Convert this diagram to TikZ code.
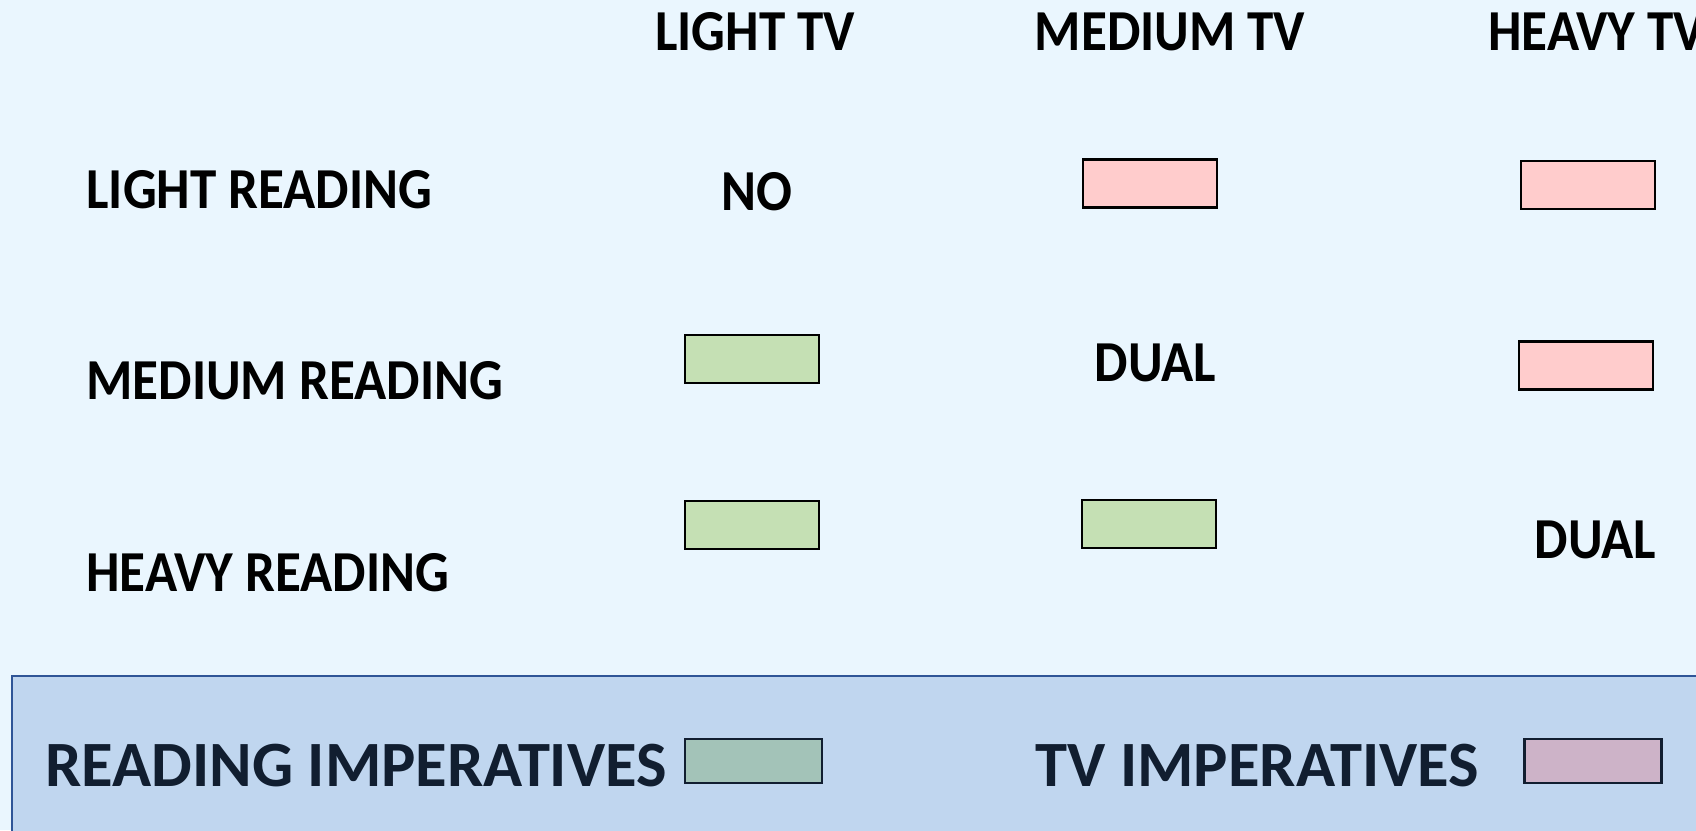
\documentclass[tikz,border=0pt]{standalone}
\usepackage{fontspec}
\setmainfont{Carlito}
\newfontfamily\gridfont{Carlito}[FakeStretch=0.915]
\definecolor{pagebg}{HTML}{EAF6FE}
\definecolor{bandfill}{HTML}{C0D6EF}
\definecolor{banddraw}{HTML}{2F5597}
\definecolor{navytext}{HTML}{111E30}
\definecolor{pinkfill}{HTML}{FFCCCC}
\definecolor{greenfill}{HTML}{C5E0B4}
\definecolor{tealfill}{HTML}{A3C3B8}
\definecolor{mauvefill}{HTML}{CDB3C8}
\tikzset{
  gridtext/.style={font=\gridfont\bfseries\fontsize{29}{32}\selectfont, inner sep=0},
  heading/.style={gridtext, anchor=base},
  rowlabel/.style={gridtext, anchor=base west},
  celltext/.style={gridtext, anchor=base},
  keytext/.style={font=\bfseries\fontsize{32.3}{36}\selectfont, text=navytext, anchor=base west, inner sep=0},
  swatch/.style={draw=black, line width=1.2pt, minimum width=67pt, minimum height=24pt, inner sep=0},
  pinkbox/.style={swatch, fill=pinkfill},
  greenbox/.style={swatch, fill=greenfill},
  keybox/.style={draw=navytext, line width=1.2pt, minimum width=68.5pt, minimum height=22pt, inner sep=0},
}
\begin{document}
\begin{tikzpicture}[x=0.5pt,y=-0.5pt]
  \useasboundingbox (0,0) rectangle (1696,830);
  \clip (0,0) rectangle (1696,830);
  \fill[pagebg] (0,0) rectangle (1696,830);

  % column headings
  \node[heading] (hlight) at (755,50) {LIGHT TV};
  \node[heading] (hmed) at (1170,50) {MEDIUM TV};
  \node[heading, anchor=base west] (hheavy) at (1488,50) {HEAVY TV};

  % row labels
  \node[rowlabel] (rlight) at (86,208) {LIGHT READING};
  \node[rowlabel] (rmed) at (86,399) {MEDIUM READING};
  \node[rowlabel] (rheavy) at (86,591) {HEAVY READING};

  % grid cells
  \node[celltext] (c11) at (757,210) {NO};
  \node[pinkbox] (c12) at (1150,183.5) {};
  \node[pinkbox] (c13) at (1588,185) {};
  \node[greenbox] (c21) at (752,359) {};
  \node[celltext] (c22) at (1155.5,381) {DUAL};
  \node[pinkbox] (c23) at (1586,365.5) {};
  \node[greenbox] (c31) at (752,525) {};
  \node[greenbox] (c32) at (1149,524) {};
  \node[celltext] (c33) at (1595.5,558) {DUAL};

  % key band
  \filldraw[fill=bandfill, draw=banddraw, line width=1.2pt] (12,676) rectangle (1710,840);
  \node[keytext] (kread) at (45,786) {READING IMPERATIVES};
  \node[keybox, fill=tealfill] (kreadbox) at (753.5,761) {};
  \node[keytext] (ktv) at (1035,786) {TV IMPERATIVES};
  \node[keybox, fill=mauvefill] (ktvbox) at (1593,761) {};
\end{tikzpicture}
\end{document}
